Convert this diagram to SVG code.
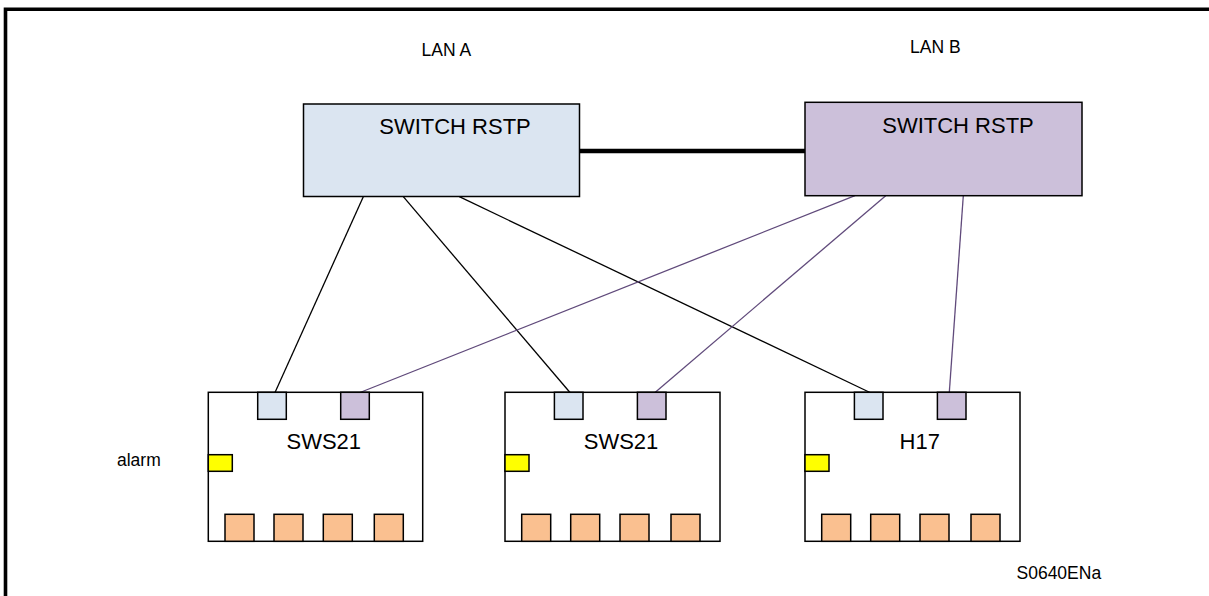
<svg xmlns="http://www.w3.org/2000/svg" width="1209" height="596" viewBox="0 0 1209 596">
<defs>
<style>
text{font-family:"Liberation Sans",Arial,sans-serif;fill:#000}
.big{font-size:22px;text-anchor:middle}
.small{font-size:17.5px}
.box{stroke:#000;stroke-width:1.5}
.sa{fill:#dbe5f1}
.sb{fill:#ccc0da}
.dev{fill:#fff}
.al{fill:#ffff00}
.or{fill:#fac090}
.la{stroke:#000;stroke-width:1.3;fill:none}
.lb{stroke:#604a7b;stroke-width:1.3;fill:none}
</style>
</defs>
<rect width="1209" height="596" fill="#fff"/>
<path d="M5.5 600 V9.2 H1215" fill="none" stroke="#000" stroke-width="3.6"/>
<text class="small" x="421.5" y="55.7">LAN A</text>
<text class="small" x="910" y="53.3">LAN B</text>
<text class="small" x="1016.5" y="579.3">S0640ENa</text>
<text class="small" x="117" y="465.7">alarm</text>
<g id="connectors">
<line x1="580" y1="151" x2="805" y2="151" stroke="#000" stroke-width="4.5"/>
<line class="la" x1="363.3" y1="196.7" x2="275" y2="392.5"/>
<line class="la" x1="403.3" y1="196.7" x2="570" y2="392.5"/>
<line class="la" x1="459.3" y1="196.7" x2="870" y2="392.5"/>
<line class="lb" x1="855" y1="195.7" x2="360" y2="392.5"/>
<line class="lb" x1="885.7" y1="195.7" x2="655" y2="392.5"/>
<line class="lb" x1="963.3" y1="195.7" x2="949.3" y2="392.5"/>
</g>
<g id="switchA">
<rect class="box sa" x="303.5" y="104" width="276" height="92.5"/>
<text class="big" x="455" y="134">SWITCH RSTP</text>
</g>
<g id="switchB">
<rect class="box sb" x="805" y="102.3" width="277" height="93.4"/>
<text class="big" x="958" y="132.7">SWITCH RSTP</text>
</g>
<g id="dev1" transform="translate(208.3,0)">
<rect class="box dev" x="0" y="392.3" width="214.4" height="149"/>
<rect class="box sa" x="49.4" y="392.3" width="28.6" height="27"/>
<rect class="box sb" x="132.4" y="392.3" width="28.6" height="27"/>
<rect class="box al" x="0" y="454.7" width="24" height="16.6"/>
<rect class="box or" x="16.7" y="514.3" width="29" height="27"/>
<rect class="box or" x="65.7" y="514.3" width="29" height="27"/>
<rect class="box or" x="115" y="514.3" width="29" height="27"/>
<rect class="box or" x="166" y="514.3" width="29" height="27"/>
<text class="big" x="115.5" y="449">SWS21</text>
</g>
<g id="dev2" transform="translate(505,0)">
<rect class="box dev" x="0" y="392.3" width="215" height="149"/>
<rect class="box sa" x="49.4" y="392.3" width="28.6" height="27"/>
<rect class="box sb" x="132.4" y="392.3" width="28.6" height="27"/>
<rect class="box al" x="0" y="454.7" width="24" height="16.6"/>
<rect class="box or" x="16.7" y="514.3" width="29" height="27"/>
<rect class="box or" x="65.7" y="514.3" width="29" height="27"/>
<rect class="box or" x="115" y="514.3" width="29" height="27"/>
<rect class="box or" x="166" y="514.3" width="29" height="27"/>
<text class="big" x="116" y="449">SWS21</text>
</g>
<g id="dev3" transform="translate(805,0)">
<rect class="box dev" x="0" y="392.3" width="215" height="149"/>
<rect class="box sa" x="49.4" y="392.3" width="28.6" height="27"/>
<rect class="box sb" x="132.4" y="392.3" width="28.6" height="27"/>
<rect class="box al" x="0" y="454.7" width="24" height="16.6"/>
<rect class="box or" x="16.7" y="514.3" width="29" height="27"/>
<rect class="box or" x="65.7" y="514.3" width="29" height="27"/>
<rect class="box or" x="115" y="514.3" width="29" height="27"/>
<rect class="box or" x="166" y="514.3" width="29" height="27"/>
<text class="big" x="114.7" y="449">H17</text>
</g>
</svg>
